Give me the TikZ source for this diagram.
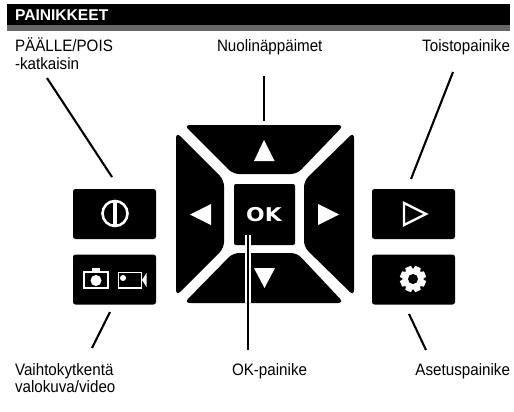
\documentclass[tikz,border=0pt]{standalone}
\usepackage{fontspec}
\setmainfont{Liberation Sans}
\newfontfamily\okfont{DejaVu Sans}
\newfontfamily\labfont[FakeStretch=0.92]{Liberation Sans}
\tikzset{
  x=1pt,y=-1pt,
  btn/.style={fill=black,rounded corners=2.5pt,draw=none,minimum width=83pt,minimum height=50pt,inner sep=0pt,outer sep=0pt},
  pad/.style={fill=black,draw=none,rounded corners=6pt},
  ptr/.style={draw=black,line width=2.1pt},
  lab/.style={font=\labfont\fontsize{16.5}{17.5}\selectfont,inner sep=0pt,outer sep=0pt,anchor=base west,align=left},
  ico/.style={draw=white,line width=1.2pt},
}
\begin{document}
\begin{tikzpicture}
\useasboundingbox (0,0) rectangle (514,412);
% header
\fill[black] (7,4) rectangle (510,25);
\fill[black!60] (7,25) rectangle (510,31);
\node[lab,text=white,font=\fontsize{15.6}{17}\bfseries\selectfont] (hd) at (15,20.5) {PAINIKKEET};
% labels
\node[lab] (lpower) at (15,69.5) {PÄÄLLE/POIS\\-katkaisin};
\node[lab] (lnav) at (217,52) {Nuolinäppäimet};
\node[lab,anchor=base east] (lplay) at (510,52) {Toistopainike};
\node[lab] (lmode) at (15,392.5) {Vaihtokytkentä\\valokuva/video};
\node[lab] (lok) at (232,375) {OK-painike};
\node[lab,anchor=base east] (lset) at (510,375) {Asetuspainike};
% buttons
\node[btn] (bpower) at (114.5,214) {};
\node[btn] (bmode) at (114.5,279.5) {};
\node[btn] (bplay) at (413.5,214) {};
\node[btn] (bset) at (413.5,279.5) {};
% d-pad
\fill[pad] (184,125) -- (344,125) -- (297,174) -- (233,174) -- cycle;
\fill[pad] (184,303) -- (344,303) -- (297,253) -- (233,253) -- cycle;
\fill[pad] (176,132) -- (176,296) -- (224,248) -- (224,180) -- cycle;
\fill[pad] (354,132) -- (354,296) -- (304,247) -- (304,181) -- cycle;
\node[fill=black,rounded corners=2pt,minimum width=61pt,minimum height=61pt,inner sep=0pt] (bok) at (264.5,214.5) {};
\node[text=white,font=\okfont\bfseries\fontsize{19}{19}\selectfont,xscale=1.15,inner sep=0pt] (oktext) at (264,214.5) {OK};
% arrows
\fill[white] (264,140) -- (274.5,161) -- (254,161) -- cycle;
\fill[white] (264.5,288) -- (275,268) -- (254,268) -- cycle;
\fill[white] (190,214.5) -- (211,204) -- (211,225) -- cycle;
\fill[white] (339,214.5) -- (318,204) -- (318,225) -- cycle;
% power icon
\draw[white,line width=2.6pt] (115,213.5) circle (12.5);
\fill[white] (113,201) rectangle (117,226);
% mode icons
\draw[ico] (84,272) rectangle (108,288);
\fill[white] (92,268) rectangle (100,272);
\fill[white] (96,280.5) circle (5.5);
\draw[ico] (118.5,272.5) rectangle (141.5,288);
\fill[white] (123,278) circle (3);
\fill[white] (142,280) -- (146.5,273) -- (146.5,287) -- cycle;
% play icon
\draw[white,line width=2.4pt,miter limit=10] (404,203) -- (404,225) -- (426,214) -- cycle;
% gear icon
\foreach \a in {0,45,...,315}
  \fill[white,rotate around={\a+22.5:(413,279)}] (410,266) -- (416,266) -- (417,272) -- (409,272) -- cycle;
\fill[white] (413,279) circle (10.5);
\fill[black] (413,279) circle (5);
% connectors
\coordinate (p1) at (47,78); \coordinate (p2) at (112,177);
\coordinate (n1) at (264,76); \coordinate (n2) at (264,121);
\coordinate (t1) at (453,72); \coordinate (t2) at (411,179);
\coordinate (v1) at (110,312); \coordinate (v2) at (92,348);
\coordinate (a1) at (409,314); \coordinate (a2) at (426,350);
\coordinate (o1) at (248,235); \coordinate (o2) at (248,350);
\draw[ptr] (p1) -- (p2);
\draw[ptr] (n1) -- (n2);
\draw[ptr] (t1) -- (t2);
\draw[ptr] (v1) -- (v2);
\draw[ptr] (a1) -- (a2);
\draw[white,line width=5.5pt] (o1) -- (248,303);
\draw[ptr] (o1) -- (o2);
\end{tikzpicture}
\end{document}
